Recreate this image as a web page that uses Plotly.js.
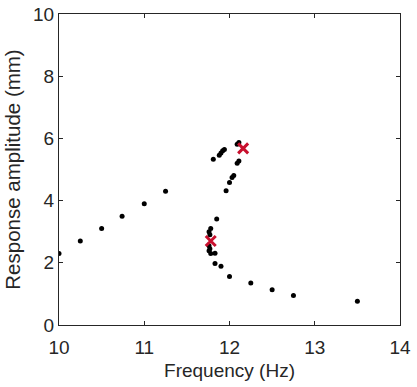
<!DOCTYPE html>
<html>
<head>
<meta charset="utf-8">
<script src="https://cdn.plot.ly/plotly-3.0.1.min.js"></script>
<style>
  html, body { margin: 0; padding: 0; background: #fff; }
  #plot { width: 417px; height: 387px; }
</style>
</head>
<body>
<div id="plot"></div>
<script>
// measured response points
const freq = [10.0, 10.25, 10.5, 10.74, 11.0, 11.25,
  11.81, 11.88, 11.90, 11.92, 11.94, 12.09, 12.11,
  12.09, 12.11, 12.03, 12.05, 12.0, 11.96,
  11.85, 11.78, 11.76, 11.77, 11.76, 11.77, 11.76, 11.78, 11.83,
  11.83, 11.90, 12.0, 12.25, 12.5, 12.75, 13.5];
const amp = [2.30, 2.70, 3.10, 3.50, 3.90, 4.30,
  5.33, 5.46, 5.53, 5.60, 5.64, 5.81, 5.87,
  5.20, 5.27, 4.74, 4.81, 4.58, 4.32,
  3.41, 3.10, 3.00, 2.90, 2.55, 2.45, 2.39, 2.30, 2.31,
  1.98, 1.89, 1.56, 1.35, 1.13, 0.95, 0.76];

// highlighted (bifurcation) points
const markFreq = [12.16, 11.78];
const markAmp = [5.68, 2.70];

const axisColor = '#262626';
const fontFam = 'Liberation Sans, Arial, sans-serif';
const tickFont = { family: fontFam, size: 19, color: axisColor };

const traces = [
  {
    x: freq, y: amp,
    mode: 'markers', type: 'scatter',
    marker: { size: 5, color: '#000' }
  },
  {
    x: markFreq, y: markAmp,
    mode: 'markers', type: 'scatter',
    marker: { symbol: 'x-thin-open', size: 10, color: '#c8102e', line: { width: 3, color: '#c8102e' } }
  }
];

Plotly.newPlot('plot', traces, {
  width: 417, height: 387,
  margin: { l: 58.5, r: 16.5, t: 13.5, b: 62 },
  showlegend: false,
  paper_bgcolor: '#fff', plot_bgcolor: '#fff',
  xaxis: {
    range: [10, 14], tickvals: [10, 11, 12, 13, 14],
    showgrid: false, zeroline: false, automargin: false,
    showline: true, linecolor: axisColor, linewidth: 1, mirror: 'ticks',
    ticks: 'inside', ticklen: 4, tickcolor: axisColor,
    tickfont: tickFont, ticklabelstandoff: 5,
    title: { text: 'Frequency (Hz)', font: { family: fontFam, size: 19, color: axisColor }, standoff: 6 }
  },
  yaxis: {
    range: [0, 10], tickvals: [0, 2, 4, 6, 8, 10],
    showgrid: false, zeroline: false, automargin: false,
    showline: true, linecolor: axisColor, linewidth: 1, mirror: 'ticks',
    ticks: 'inside', ticklen: 4, tickcolor: axisColor,
    tickfont: tickFont,
    title: { text: 'Response amplitude (mm)', font: { family: fontFam, size: 20.5, color: axisColor }, standoff: 6 }
  }
}, { staticPlot: true });
</script>
</body>
</html>
